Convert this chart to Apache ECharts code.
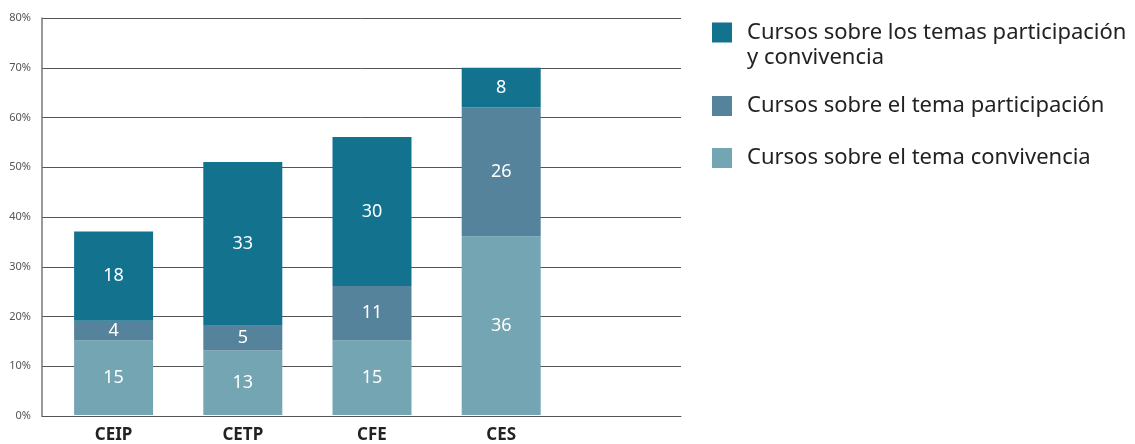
<!DOCTYPE html>
<html>
<head>
<meta charset="utf-8">
<script src="https://cdn.jsdelivr.net/npm/echarts@6/dist/echarts.min.js"></script>
<style>
  html, body { margin: 0; padding: 0; background: #fff; }
  #chart { width: 1135px; height: 444px; }
</style>
</head>
<body>
<div id="chart"></div>
<script>
const DARK = '#13738f';
const MID = '#56839c';
const LIGHT = '#74a5b3';
const FONT = '"Noto Sans", sans-serif';

// categories (last slot is empty on the reference)
const categories = ['CEIP', 'CETP', 'CFE', 'CES', ''];
const convivencia = [15, 13, 15, 36];
const participacion = [4, 5, 11, 26];
const ambos = [18, 33, 30, 8];

const names = [
  'Cursos sobre los temas participación y convivencia',
  'Cursos sobre el tema participación',
  'Cursos sobre el tema convivencia'
];

const barLabel = {
  show: true,
  position: 'inside',
  color: '#fff',
  fontSize: 18,
  fontFamily: FONT
};

// the first legend entry wraps onto two lines, with the icon beside the first line
function wrapFirst(name) {
  const cut = name.indexOf(' y convivencia');
  if (cut < 0) return '{t|' + name + '}';
  return '{gap| }\n{t|' + name.slice(0, cut) + '}\n{t|' + name.slice(cut + 1) + '}';
}

function legendAt(name, top) {
  return {
    data: [name],
    orient: 'vertical',
    left: 712,
    top: top,
    icon: 'rect',
    itemWidth: 20,
    itemHeight: 20,
    itemGap: 0,
    padding: 0,
    itemStyle: {borderWidth: 0},
    formatter: wrapFirst,
    textStyle: {
      rich: {
        gap: {fontSize: 22, lineHeight: 25, height: 25},
        t: {fontSize: 22, fontFamily: FONT, color: '#222', lineHeight: 25, padding: [0, 0, 0, 10]}
      }
    },
    selectedMode: false
  };
}

const chart = echarts.init(document.getElementById('chart'));

chart.setOption({
  animation: false,
  legend: [
    legendAt(names[0], -5),
    legendAt(names[1], 95),
    legendAt(names[2], 147)
  ],
  grid: [
    {left: 42, top: 18, width: 639, height: 398},
    {left: 49, top: 18, width: 646, height: 398}
  ],
  xAxis: [{
    type: 'category',
    gridIndex: 0,
    data: categories,
    axisLine: {lineStyle: {color: '#555', width: 1}},
    axisTick: {show: false},
    axisLabel: {show: false}
  }, {
    type: 'category',
    gridIndex: 1,
    data: categories,
    axisLine: {show: false},
    axisTick: {show: false},
    axisLabel: {
      fontSize: 17,
      fontWeight: 'bold',
      fontFamily: FONT,
      color: '#222',
      margin: 12
    }
  }],
  yAxis: [{
    type: 'value',
    gridIndex: 0,
    min: 0,
    max: 80,
    interval: 10,
    axisLine: {show: true, lineStyle: {color: '#777', width: 1.5}},
    axisTick: {show: false},
    axisLabel: {
      formatter: '{value}%',
      fontSize: 11,
      fontFamily: FONT,
      color: '#555',
      margin: 11
    },
    splitLine: {lineStyle: {color: '#555', width: 1}}
  }, {
    type: 'value',
    gridIndex: 1,
    min: 0,
    max: 80,
    show: false
  }],
  series: [
    {
      name: names[2],
      type: 'bar',
      stack: 'total',
      xAxisIndex: 1,
      yAxisIndex: 1,
      barWidth: 79,
      itemStyle: {color: LIGHT},
      label: barLabel,
      data: convivencia
    }, {
      name: names[1],
      type: 'bar',
      stack: 'total',
      xAxisIndex: 1,
      yAxisIndex: 1,
      barWidth: 79,
      itemStyle: {color: MID},
      label: barLabel,
      data: participacion
    }, {
      name: names[0],
      type: 'bar',
      stack: 'total',
      xAxisIndex: 1,
      yAxisIndex: 1,
      barWidth: 79,
      itemStyle: {color: DARK},
      label: barLabel,
      data: ambos
    }
  ]
});
</script>
</body>
</html>
